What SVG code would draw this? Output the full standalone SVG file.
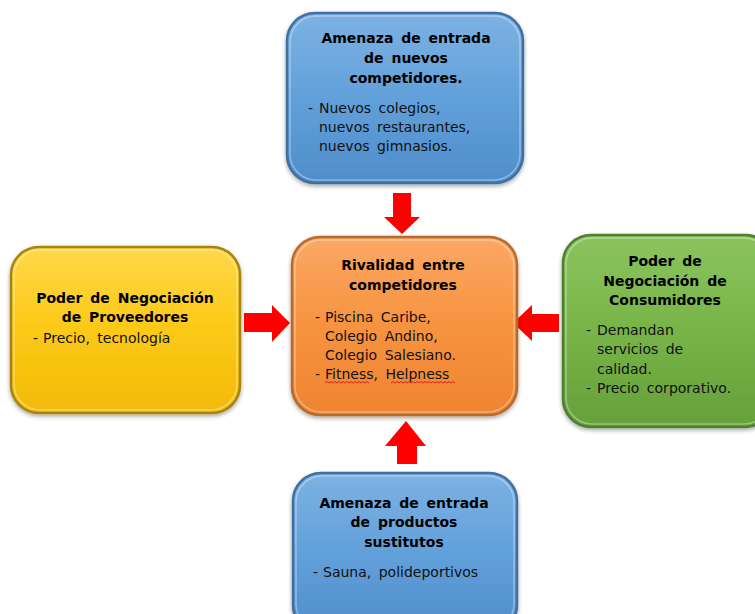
<svg xmlns="http://www.w3.org/2000/svg" width="755" height="614" viewBox="0 0 755 614">
<defs>
<linearGradient id="gBlue" x1="0" y1="0" x2="0" y2="1"><stop offset="0" stop-color="#7DB2E3"/><stop offset="0.5" stop-color="#62A0DA"/><stop offset="1" stop-color="#4F8DCB"/></linearGradient>
<linearGradient id="gOrange" x1="0" y1="0" x2="0" y2="1"><stop offset="0" stop-color="#FBA865"/><stop offset="0.5" stop-color="#F7933F"/><stop offset="1" stop-color="#EE8431"/></linearGradient>
<linearGradient id="gYellow" x1="0" y1="0" x2="0" y2="1"><stop offset="0" stop-color="#FFD84A"/><stop offset="0.5" stop-color="#FCC916"/><stop offset="1" stop-color="#F2BA08"/></linearGradient>
<linearGradient id="gGreen" x1="0" y1="0" x2="0" y2="1"><stop offset="0" stop-color="#8CC45E"/><stop offset="0.5" stop-color="#77B448"/><stop offset="1" stop-color="#66A03A"/></linearGradient>
<filter id="sh" x="-10%" y="-10%" width="120%" height="125%"><feDropShadow dx="0" dy="2" stdDeviation="2" flood-color="#000" flood-opacity="0.35"/></filter>
</defs>
<style>
.box{stroke-width:2.5;filter:url(#sh)}
.hl{fill:none;stroke:#fff;stroke-opacity:0.35;stroke-width:1.5}
.t{font-family:"DejaVu Sans",Verdana,sans-serif;font-size:14px;font-weight:bold;fill:#000;text-anchor:middle;word-spacing:3px}
.b{font-family:"DejaVu Sans",Verdana,sans-serif;font-size:14px;fill:#111;word-spacing:3px}
.arr{fill:#FF0000}
.sq{fill:none;stroke:#E02020;stroke-width:1}
</style>
<g id="connectors">
<polygon class="arr" points="393,193 411,193 411,217 420,217 402,234 384,217 393,217"/>
<polygon class="arr" points="244,313 272,313 272,305 290,323 272,342 272,332 244,332"/>
<polygon class="arr" points="559,314 532,314 532,305 513,323 532,341 532,332 559,332"/>
<polygon class="arr" points="397,464 417,464 417,446 426,446 406,421 385,446 397,446"/>
</g>
<g id="node-top">
<rect class="box" x="287" y="13" width="236" height="170" rx="28" fill="url(#gBlue)" stroke="#3F6F9E"/>
<rect class="hl" x="290" y="16" width="230" height="164" rx="26"/>
<text class="t" x="406" y="43">Amenaza de entrada</text>
<text class="t" x="406" y="63">de nuevos</text>
<text class="t" x="406" y="83">competidores.</text>
<text class="b" x="308" y="113">-<tspan x="319">Nuevos colegios,</tspan></text>
<text class="b" x="319" y="132">nuevos restaurantes,</text>
<text class="b" x="319" y="151">nuevos gimnasios.</text>
</g>
<g id="node-center">
<rect class="box" x="292" y="237" width="225" height="178" rx="28" fill="url(#gOrange)" stroke="#B86A2A"/>
<rect class="hl" x="295" y="240" width="219" height="172" rx="26"/>
<text class="t" x="403" y="270">Rivalidad entre</text>
<text class="t" x="403" y="290">competidores</text>
<text class="b" x="315" y="322">-<tspan x="325">Piscina Caribe,</tspan></text>
<text class="b" x="325" y="341">Colegio Andino,</text>
<text class="b" x="325" y="360">Colegio Salesiano.</text>
<text class="b" x="315" y="379">-<tspan x="325">Fitness, Helpness</tspan></text>
<path class="sq" d="M325,383 l2,-1.5 l2,1.5 l2,-1.5 l2,1.5 l2,-1.5 l2,1.5 l2,-1.5 l2,1.5 l2,-1.5 l2,1.5 l2,-1.5 l2,1.5 l2,-1.5 l2,1.5 l2,-1.5 l2,1.5 l2,-1.5 l2,1.5 l2,-1.5 l2,1.5 l2,-1.5 l2,1.5"/>
<path class="sq" d="M391,383 l2,-1.5 l2,1.5 l2,-1.5 l2,1.5 l2,-1.5 l2,1.5 l2,-1.5 l2,1.5 l2,-1.5 l2,1.5 l2,-1.5 l2,1.5 l2,-1.5 l2,1.5 l2,-1.5 l2,1.5 l2,-1.5 l2,1.5 l2,-1.5 l2,1.5 l2,-1.5 l2,1.5 l2,-1.5 l2,1.5 l2,-1.5 l2,1.5 l2,-1.5 l2,1.5 l2,-1.5 l2,1.5 l2,-1.5 l2,1.5"/>
</g>
<g id="node-left">
<rect class="box" x="11" y="247" width="229" height="166" rx="28" fill="url(#gYellow)" stroke="#A88410"/>
<rect class="hl" x="14" y="250" width="223" height="160" rx="26"/>
<text class="t" x="125" y="303">Poder de Negociación</text>
<text class="t" x="125" y="322">de Proveedores</text>
<text class="b" x="33" y="343">-<tspan x="43">Precio, tecnología</tspan></text>
</g>
<g id="node-right">
<rect class="box" x="563" y="235" width="210" height="192" rx="28" fill="url(#gGreen)" stroke="#4E7F2E"/>
<rect class="hl" x="566" y="238" width="204" height="186" rx="26"/>
<text class="t" x="665" y="266">Poder de</text>
<text class="t" x="665" y="286">Negociación de</text>
<text class="t" x="665" y="305">Consumidores</text>
<text class="b" x="586" y="335">-<tspan x="597">Demandan</tspan></text>
<text class="b" x="597" y="354">servicios de</text>
<text class="b" x="597" y="374">calidad.</text>
<text class="b" x="586" y="393">-<tspan x="597">Precio corporativo.</tspan></text>
</g>
<g id="node-bottom">
<rect class="box" x="293" y="473" width="224" height="160" rx="28" fill="url(#gBlue)" stroke="#3F6F9E"/>
<rect class="hl" x="296" y="476" width="218" height="154" rx="26"/>
<text class="t" x="404" y="508">Amenaza de entrada</text>
<text class="t" x="404" y="527">de productos</text>
<text class="t" x="404" y="547">sustitutos</text>
<text class="b" x="313" y="577">-<tspan x="323">Sauna, polideportivos</tspan></text>
</g>
</svg>
